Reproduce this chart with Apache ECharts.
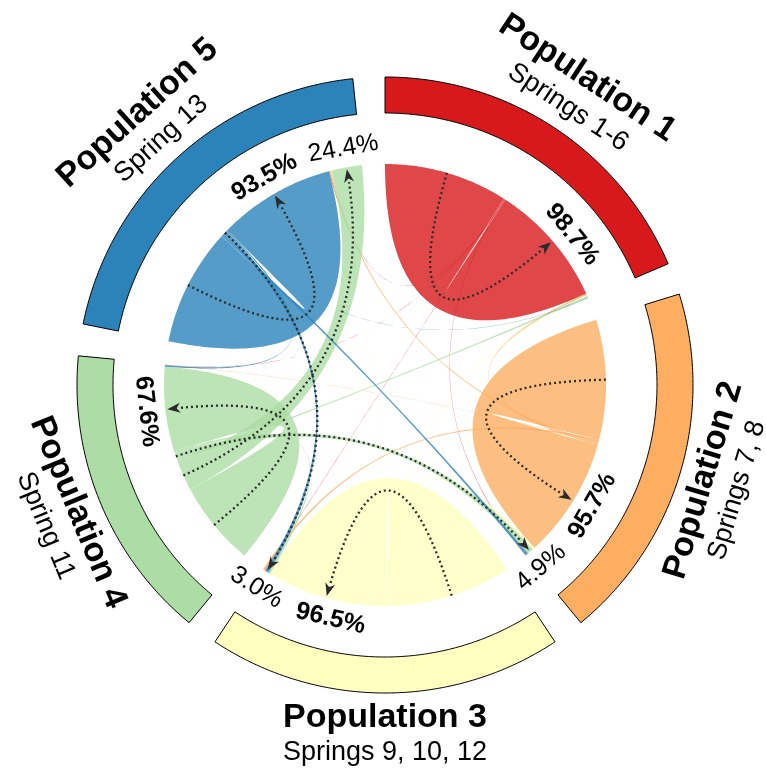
<!DOCTYPE html>
<html>
<head>
<meta charset="utf-8">
<script src="https://cdn.jsdelivr.net/npm/echarts@6/dist/echarts.min.js"></script>
<style>
  html, body { margin: 0; padding: 0; background: #ffffff; }
  #chart { width: 766px; height: 772px; }
</style>
</head>
<body>
<div id="chart"></div>
<script>
// Populations around the circle and the springs each one groups
const populations = ['Population 1', 'Population 2', 'Population 3', 'Population 4', 'Population 5'];
const springs = ['Springs 1-6', 'Springs 7, 8', 'Springs 9, 10, 12', 'Spring 11', 'Spring 13'];

// Share (%) of each source population assigned to each destination population
const fromPop1 = [98.7, 0.4, 0.3, 0.2, 0.4];
const fromPop2 = [1.2, 95.7, 1.6, 0.3, 1.2];
const fromPop3 = [0.8, 2.0, 96.5, 0.3, 0.4];
const fromPop4 = [1.5, 4.9, 1.6, 67.6, 24.4];
const fromPop5 = [0.3, 2.1, 3.0, 1.1, 93.5];

// Flows at or above this share get an arrow and a percentage label
const arrowThreshold = 3.0;

// ---- styling ----
const sectorColors = ['#D7191C', '#FDAE61', '#FFFFBF', '#ABDDA4', '#2B83BA'];
const FONT = '"Liberation Sans", Arial, Helvetica, sans-serif';
const R_LINK = 221, R_IN = 272, R_OUT = 308, R_PCT = 240, R_NAME = 350;
const GAP = 6;            // degrees between sectors
const ARROW_COLOR = '#2b2b2b';
// small angular nudges (degrees) that keep neighbouring percentage labels apart, keyed 'from-to'
const LABEL_NUDGE = { '0-0': 1.9, '1-1': -1.4, '2-2': -2.3, '3-1': 0.6 };

// ---- layout along the circle (angle axis: degrees clockwise from top) ----
// Each sector holds its outgoing flows, then its incoming flows; within each part
// the self flow comes first, then the other populations in clockwise order.
const flows = [fromPop1, fromPop2, fromPop3, fromPop4, fromPop5];
const n = populations.length;
const rowSum = flows.map(r => r.reduce((a, b) => a + b, 0));
const colSum = populations.map((_, j) => flows.reduce((a, r) => a + r[j], 0));
const widths = rowSum.map((v, i) => v + colSum[i]);
const totalW = widths.reduce((a, b) => a + b, 0);
const unit = (360 - n * GAP) / totalW;

const sectors = [];
const outSeg = populations.map(() => []);
const inSeg = populations.map(() => []);   // inSeg[i][j]: part of sector j receiving i -> j
let pos = 0;
for (let i = 0; i < n; i++) {
  const start = pos;
  let p = start;
  for (let k = 0; k < n; k++) {
    const j = (i + k) % n;
    outSeg[i][j] = [p, p + flows[i][j] * unit]; p += flows[i][j] * unit;
  }
  for (let k = 0; k < n; k++) {
    const j = (i + k) % n;
    inSeg[j][i] = [p, p + flows[j][i] * unit]; p += flows[j][i] * unit;
  }
  sectors.push([start, p]);
  pos = p + GAP;
}

const sectorData = populations.map((_, i) => [i, 0]);
const linkData = [];
const arrowData = [];
for (let i = 0; i < n; i++) {
  for (let j = 0; j < n; j++) {
    if (flows[i][j] > 0) linkData.push([i, j, flows[i][j]]);
    if (flows[i][j] >= arrowThreshold) arrowData.push([i, j, flows[i][j]]);
  }
}

// ---- geometry helpers (all points go through the polar coordinate system) ----
function arcPoints(api, r, a1, a2) {
  const steps = Math.max(2, Math.ceil(Math.abs(a2 - a1) * 2));
  const pts = [];
  for (let k = 0; k <= steps; k++) pts.push(api.coord([r, a1 + (a2 - a1) * k / steps]));
  return pts;
}
function quad(p0, c, p2, steps) {
  const pts = [];
  for (let k = 0; k <= steps; k++) {
    const t = k / steps, u = 1 - t;
    pts.push([u * u * p0[0] + 2 * u * t * c[0] + t * t * p2[0],
              u * u * p0[1] + 2 * u * t * c[1] + t * t * p2[1]]);
  }
  return pts;
}
function facing(a) {
  const aa = ((a % 360) + 360) % 360;
  const deg = (aa > 90 && aa < 270) ? 180 - aa : -aa;
  return deg * Math.PI / 180;
}
const mid = s => (s[0] + s[1]) / 2;

function renderSector(params, api) {
  const i = api.value(0);
  const [a1, a2] = sectors[i];
  const pts = arcPoints(api, R_OUT, a1, a2).concat(arcPoints(api, R_IN, a2, a1));
  const m = (a1 + a2) / 2;
  const lp = api.coord([R_NAME, m]);
  return {
    type: 'group',
    children: [
      { type: 'polygon', shape: { points: pts },
        style: { fill: sectorColors[i], stroke: '#000000', lineWidth: 1 } },
      { type: 'text', x: lp[0], y: lp[1], rotation: facing(m),
        style: {
          text: '{t|' + populations[i] + '}\n{s|' + springs[i] + '}',
          align: 'center', verticalAlign: 'middle',
          rich: {
            t: { fontFamily: FONT, fontWeight: 'bold', fontSize: 34, lineHeight: 35, fill: '#000', align: 'center' },
            s: { fontFamily: FONT, fontSize: 27, lineHeight: 35, fill: '#000', align: 'center' }
          }
        } }
    ]
  };
}

function renderLink(params, api) {
  const i = api.value(0), j = api.value(1);
  const [a1, a2] = outSeg[i][j];
  const [b1, b2] = inSeg[i][j];
  const c = api.coord([0, 0]);
  const pts = [].concat(
    arcPoints(api, R_LINK, a1, a2),
    quad(api.coord([R_LINK, a2]), c, api.coord([R_LINK, b1]), 80),
    arcPoints(api, R_LINK, b1, b2),
    quad(api.coord([R_LINK, b2]), c, api.coord([R_LINK, a1]), 80)
  );
  return {
    type: 'polygon', shape: { points: pts },
    style: { fill: sectorColors[i], opacity: 0.8 }
  };
}

function renderArrow(params, api) {
  const i = api.value(0), j = api.value(1), v = api.value(2);
  const c = api.coord([0, 0]);
  const p0 = api.coord([R_LINK, mid(outSeg[i][j])]);
  const tm = mid(inSeg[i][j]);
  const tip = api.coord([R_LINK - 2, tm]);
  const L = 13, W = 10;
  const dx = tip[0] - c[0], dy = tip[1] - c[1];
  const len = Math.hypot(dx, dy);
  const ux = dx / len, uy = dy / len;
  const curve = quad(p0, c, tip, 200).filter(p => Math.hypot(p[0] - tip[0], p[1] - tip[1]) > L - 2);
  const base = [tip[0] - ux * L, tip[1] - uy * L];
  const notch = [tip[0] - ux * L * 0.72, tip[1] - uy * L * 0.72];
  const head = [tip, [base[0] - uy * W / 2, base[1] + ux * W / 2], notch, [base[0] + uy * W / 2, base[1] - ux * W / 2]];
  const la = tm + (LABEL_NUDGE[i + '-' + j] || 0);
  const lp = api.coord([R_PCT, la]);
  return {
    type: 'group',
    children: [
      { type: 'polyline', shape: { points: curve },
        style: { stroke: ARROW_COLOR, lineWidth: 2.3, lineDash: [2, 3], fill: null } },
      { type: 'polygon', shape: { points: head }, style: { fill: ARROW_COLOR } },
      { type: 'text', x: lp[0], y: lp[1], rotation: facing(la),
        style: { text: v.toFixed(1) + '%', align: 'center', verticalAlign: 'middle',
                 fontFamily: FONT, fontSize: 25, fontWeight: i === j ? 'bold' : 'normal', fill: '#000' } }
    ]
  };
}

const chart = echarts.init(document.getElementById('chart'), null, { renderer: 'canvas' });
chart.setOption({
  backgroundColor: '#ffffff',
  animation: false,
  polar: { center: [385, 385], radius: 400 },
  angleAxis: { type: 'value', min: 0, max: 360, startAngle: 90, clockwise: true, show: false },
  radiusAxis: { type: 'value', min: 0, max: 400, show: false },
  series: [
    { type: 'custom', coordinateSystem: 'polar', data: sectorData, renderItem: renderSector, silent: true },
    { type: 'custom', coordinateSystem: 'polar', data: linkData, renderItem: renderLink, silent: true },
    { type: 'custom', coordinateSystem: 'polar', data: arrowData, renderItem: renderArrow, silent: true }
  ]
});
</script>
</body>
</html>
